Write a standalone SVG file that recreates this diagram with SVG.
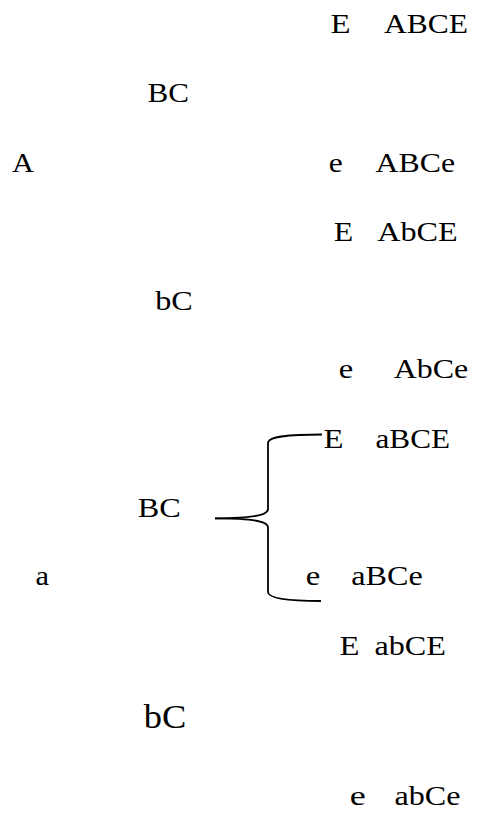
<svg xmlns="http://www.w3.org/2000/svg" width="478" height="821" viewBox="0 0 478 821">
  <style>
    text { font-family: "Liberation Serif", "Times New Roman", serif; font-size: 27.5px; fill: #000; }
    .big { font-size: 33px; }
    .brace { fill: none; stroke: #000; stroke-width: 1.8; }
  </style>
  <rect width="478" height="821" fill="#fff"/>

  <!-- first generation -->
  <g id="node-A"><text x="12" y="171.7" textLength="22" lengthAdjust="spacingAndGlyphs">A</text></g>
  <g id="node-a"><text x="35.5" y="585" textLength="13.5" lengthAdjust="spacingAndGlyphs">a</text></g>

  <!-- second generation -->
  <g id="node-BC-1"><text x="147.5" y="101.7" textLength="41.5" lengthAdjust="spacingAndGlyphs">BC</text></g>
  <g id="node-bC-1"><text x="155.3" y="310" textLength="37.5" lengthAdjust="spacingAndGlyphs">bC</text></g>
  <g id="node-BC-2"><text x="137.8" y="516.7" textLength="43" lengthAdjust="spacingAndGlyphs">BC</text></g>
  <g id="node-bC-2"><text class="big" x="143.8" y="728.3" textLength="42.5" lengthAdjust="spacingAndGlyphs">bC</text></g>

  <!-- third generation -->
  <g id="node-ABCE">
    <text x="330.5" y="33.3" textLength="20" lengthAdjust="spacingAndGlyphs">E</text>
    <text x="384" y="33.3" textLength="84" lengthAdjust="spacingAndGlyphs">ABCE</text>
  </g>
  <g id="node-ABCe">
    <text x="328.7" y="171.7" textLength="14" lengthAdjust="spacingAndGlyphs">e</text>
    <text x="375.5" y="171.7" textLength="79.5" lengthAdjust="spacingAndGlyphs">ABCe</text>
  </g>
  <g id="node-AbCE">
    <text x="333.8" y="240.7" textLength="19.5" lengthAdjust="spacingAndGlyphs">E</text>
    <text x="377.2" y="240.7" textLength="80.5" lengthAdjust="spacingAndGlyphs">AbCE</text>
  </g>
  <g id="node-AbCe">
    <text x="338.7" y="378.3" textLength="14.5" lengthAdjust="spacingAndGlyphs">e</text>
    <text x="393.8" y="378.3" textLength="74.5" lengthAdjust="spacingAndGlyphs">AbCe</text>
  </g>
  <g id="node-aBCE">
    <text x="323.5" y="448.3" textLength="20" lengthAdjust="spacingAndGlyphs">E</text>
    <text x="375.5" y="448.3" textLength="74.5" lengthAdjust="spacingAndGlyphs">aBCE</text>
  </g>
  <g id="node-aBCe">
    <text x="305.7" y="585" textLength="14.5" lengthAdjust="spacingAndGlyphs">e</text>
    <text x="351.2" y="585" textLength="71.5" lengthAdjust="spacingAndGlyphs">aBCe</text>
  </g>
  <g id="node-abCE">
    <text x="339.5" y="655" textLength="20" lengthAdjust="spacingAndGlyphs">E</text>
    <text x="374.5" y="655" textLength="71.5" lengthAdjust="spacingAndGlyphs">abCE</text>
  </g>
  <g id="node-abCe">
    <text x="349.7" y="805" textLength="16" lengthAdjust="spacingAndGlyphs">e</text>
    <text x="394.5" y="805" textLength="66" lengthAdjust="spacingAndGlyphs">abCe</text>
  </g>

  <!-- connectors -->
  <g id="connectors">
    <path class="brace" d="M215,518.3 C245,518.3 268,516.5 268,509 L268,443 C268,436 290,434.5 322,434.5"/>
    <path class="brace" d="M215,518.3 C245,518.3 268,520 268,527.5 L268,592 C268,599 290,601 321,601"/>
  </g>
</svg>
